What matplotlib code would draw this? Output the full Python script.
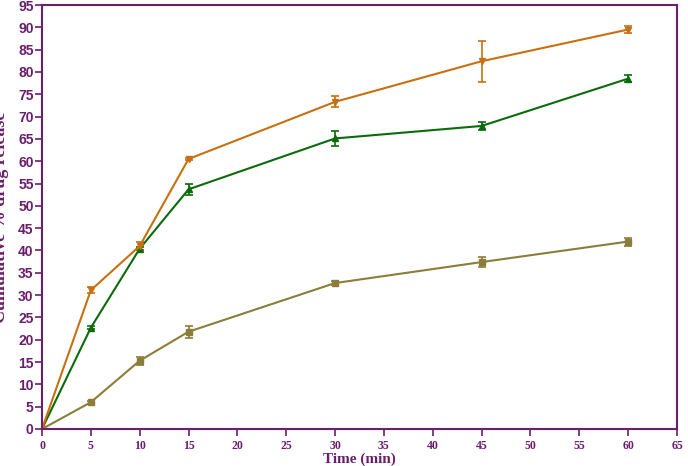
import matplotlib
matplotlib.use("Agg")
import matplotlib.pyplot as plt

# data
time = [0, 5, 10, 15, 30, 45, 60]

orange = [0, 31.1, 41.0, 60.5, 73.3, 82.4, 89.5]
orange_err = [0, 0.7, 0.8, 0.3, 1.2, 4.6, 0.7]

green = [0, 22.7, 40.4, 53.7, 65.1, 67.9, 78.5]
green_err = [0, 0.3, 0.4, 1.2, 1.6, 0.9, 0.8]

olive = [0, 6.0, 15.3, 21.8, 32.7, 37.4, 42.0]
olive_err = [0, 0.3, 0.9, 1.3, 0.5, 1.2, 0.9]

purple = "#6B1E6B"

fig = plt.figure(figsize=(6.88, 4.66), dpi=100)
ax = fig.add_axes([42/688, 37/466, 635/688, 424/466])

ax.errorbar(time, olive, yerr=olive_err, color="#8B7D3A", marker="s", ms=4,
            lw=1.5, capsize=3, capthick=1.2, elinewidth=1.2)
ax.errorbar(time, green, yerr=green_err, color="#0B6B0B", marker="^", ms=5,
            lw=1.5, capsize=3, capthick=1.2, elinewidth=1.2)
ax.errorbar(time, orange, yerr=orange_err, color="#C8700F", marker="v", ms=5,
            lw=1.5, capsize=3, capthick=1.2, elinewidth=1.2)

ax.set_xlim(0, 65)
ax.set_ylim(0, 95)
ax.set_xticks(range(0, 66, 5))
ax.set_yticks(range(0, 96, 5))

for s in ax.spines.values():
    s.set_color(purple)
    s.set_linewidth(1.5)

ax.tick_params(colors=purple, width=1.2, length=5, direction="out")
for lab in ax.get_yticklabels():
    lab.set_fontfamily("Liberation Sans")
    lab.set_fontweight("bold")
    lab.set_fontsize(10)
for lab in ax.get_xticklabels():
    lab.set_fontfamily("Liberation Serif")
    lab.set_fontweight("bold")
    lab.set_fontsize(8.5)
ax.tick_params(axis="x", pad=3)
ax.tick_params(axis="y", pad=1)

ax.set_xlabel("Time (min)", family="Liberation Serif", weight="bold",
              fontsize=11, color=purple, labelpad=0)
ax.set_ylabel("Cumulative % drug release", family="Liberation Serif",
              weight="bold", fontsize=13, color=purple)
ax.yaxis.set_label_coords(-0.052, 0.5)

fig.savefig("out.png", dpi=100)
